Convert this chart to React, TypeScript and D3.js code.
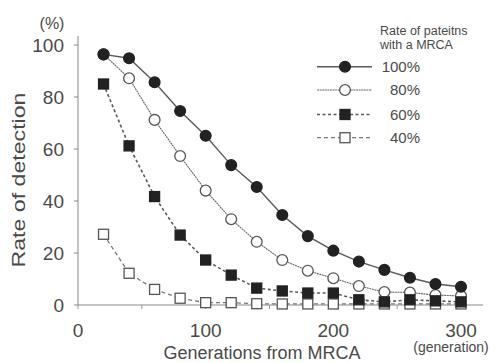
import React from 'react';
import { scaleLinear, line } from 'd3';

// generations from MRCA (x) and rate of detection (%) per series
const generations = [20, 40, 60, 80, 100, 120, 140, 160, 180, 200, 220, 240, 260, 280, 300];
const rate100 = [96.4, 94.9, 85.7, 74.6, 65.1, 53.8, 45.4, 34.6, 26.5, 20.9, 16.7, 13.5, 10.5, 8.1, 7.0];
const rate80 = [96.4, 87.2, 71.2, 57.3, 44.0, 33.0, 24.3, 17.3, 13.2, 10.3, 7.3, 5.0, 4.8, 3.8, 3.5];
const rate60 = [85.0, 61.2, 41.7, 26.9, 17.3, 11.5, 6.5, 5.4, 4.6, 4.6, 2.0, 1.2, 2.0, 1.6, 1.2];
const rate40 = [27.2, 12.2, 6.0, 2.6, 0.9, 0.9, 0.5, 0.4, 0.4, 0.4, 0.4, 0.4, 0.4, 0.4, 0.4];

const yTicks = [0, 20, 40, 60, 80, 100];
const xTickLabels = [0, 100, 200, 300];
const xTickMarks = [0, 50, 100, 150, 200, 250, 300];

const seriesLabels = ['100%', '80%', '60%', '40%'];

const font = '"Liberation Sans", Arial, Helvetica, sans-serif';
const textColor = '#4a4a4a';
const lineColor = '#5a5a5a';
const markColor = '#222';

type Series = {
  key: string;
  values: number[];
  marker: 'circle' | 'square';
  filled: boolean;
  dash: string;
  width: number;
  stroke: string;
};

// drawing order: open squares, open circles, filled squares, filled circles
const series: Series[] = [
  { key: '40%', values: rate40, marker: 'square', filled: false, dash: '4,3', width: 1.3, stroke: '#777' },
  { key: '80%', values: rate80, marker: 'circle', filled: false, dash: '2,0.6', width: 1.1, stroke: '#6a6a6a' },
  { key: '60%', values: rate60, marker: 'square', filled: true, dash: '3,2.5', width: 1.6, stroke: lineColor },
  { key: '100%', values: rate100, marker: 'circle', filled: true, dash: '', width: 1.4, stroke: lineColor },
];

const Marker = ({ s, cx, cy }: { s: Series; cx: number; cy: number }) => {
  const fill = s.filled ? markColor : '#fff';
  const stroke = s.filled ? markColor : '#555';
  if (s.marker === 'circle') {
    return <circle cx={cx} cy={cy} r={5.4} fill={fill} stroke={stroke} strokeWidth={1.3} />;
  }
  return <rect x={cx - 5} y={cy - 5} width={10} height={10} fill={fill} stroke={stroke} strokeWidth={1.3} />;
};

const App = () => {
  const width = 495;
  const height = 363;

  const x = scaleLinear().domain([0, 300]).range([78, 461]);
  const y = scaleLinear().domain([0, 100]).range([305, 45]);

  const path = line<number>()
    .x((_, i) => x(generations[i]))
    .y(d => y(d));

  // legend rows
  const legendY = [66.7, 90, 114.5, 137.7];
  const legendOrder = ['100%', '80%', '60%', '40%'];

  return (
    <div style={{ position: 'absolute', left: 0, top: 0 }}>
      <svg width={width} height={height} style={{ display: 'block', background: '#fff' }} fontFamily={font}>
        {/* axes */}
        <line x1={x(0)} x2={x(0)} y1={y(103.5)} y2={y(0)} stroke="#888" strokeWidth={1} />
        <line x1={x(0)} x2={483} y1={y(0)} y2={y(0)} stroke="#888" strokeWidth={1} />
        {yTicks.map(t => (
          <g key={'y' + t}>
            <line x1={x(0) - 4} x2={x(0)} y1={y(t)} y2={y(t)} stroke="#888" />
            <text x={64} y={y(t)} dy="0.36em" textAnchor="end" fontSize={19} fill={textColor}>{t}</text>
          </g>
        ))}
        {xTickMarks.map(t => (
          <line key={'xm' + t} x1={x(t)} x2={x(t)} y1={y(0)} y2={y(0) + 4} stroke="#999" />
        ))}
        {xTickLabels.map(t => (
          <text key={'x' + t} x={x(t)} y={337} textAnchor="middle" fontSize={19} fill={textColor}>{t}</text>
        ))}
        <text x={52} y={29} textAnchor="middle" fontSize={16} fill={textColor}>(%)</text>
        <text
          transform={`translate(25, 180) rotate(-90)`}
          textAnchor="middle"
          fontSize={19}
          fill={textColor}
          textLength={175}
          lengthAdjust="spacingAndGlyphs"
        >Rate of detection</text>
        <text x={262} y={359} textAnchor="middle" fontSize={18} fill={textColor}>Generations from MRCA</text>
        <text x={451} y={352} textAnchor="middle" fontSize={14} fill={textColor}>(generation)</text>

        {/* series */}
        {series.map(s => (
          <g key={s.key}>
            <path d={path(s.values) || ''} fill="none" stroke={s.stroke} strokeWidth={s.width} strokeDasharray={s.dash || undefined} />
            {s.values.map((v, i) => (
              <Marker key={i} s={s} cx={x(generations[i])} cy={y(v)} />
            ))}
          </g>
        ))}

        {/* legend */}
        <text x={380} y={35} fontSize={12.5} fill={textColor}>Rate of pateitns</text>
        <text x={380} y={49} fontSize={12.5} fill={textColor}>with a MRCA</text>
        {legendOrder.map((k, i) => {
          const s = series.find(d => d.key === k)!;
          const ly = legendY[i];
          return (
            <g key={'lg' + k}>
              <line x1={317} x2={372} y1={ly} y2={ly} stroke={s.stroke} strokeWidth={s.width} strokeDasharray={s.dash || undefined} />
              <Marker s={s} cx={345} cy={ly} />
              <text x={420} y={ly} dy="0.36em" textAnchor="end" fontSize={15} fill={textColor}>{seriesLabels[i]}</text>
            </g>
          );
        })}
      </svg>
    </div>
  );
};

export default App;
